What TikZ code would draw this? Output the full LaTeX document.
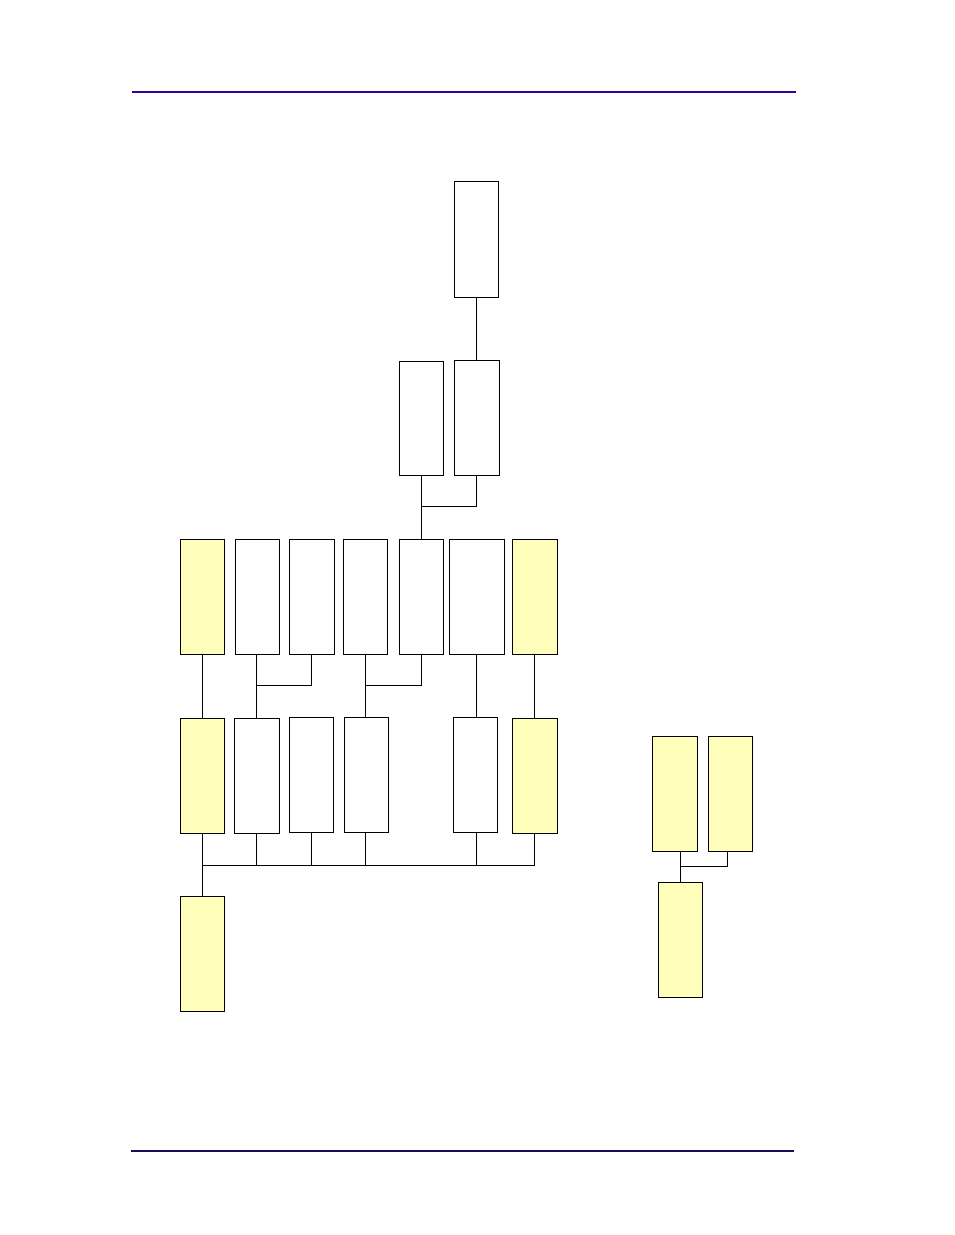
\documentclass[tikz,border=0pt]{standalone}
\usetikzlibrary{calc}
\definecolor{hdr}{HTML}{330099}
\definecolor{ftr}{HTML}{1E0A5A}
\definecolor{pale}{HTML}{FFFFBB}
\begin{document}
\begin{tikzpicture}[x=1pt,y=-1pt,
  wbox/.style={draw=black,line width=1pt,fill=white,minimum width=44pt,minimum height=115pt,inner sep=0pt,outer sep=0pt},
  ybox/.style={wbox,fill=pale},
  conn/.style={draw=black,line width=1pt}]
\useasboundingbox (0,0) rectangle (954,1235);
\draw[hdr,line width=1.2pt] (132,92) -- (796,92);
\draw[ftr,line width=1.2pt] (131,1151) -- (794,1151);
% top
\node[wbox,minimum height=116pt] (T1) at (476.3,239.2) {};
\node[wbox,minimum height=114pt] (M1) at (421.3,418.2) {};
\node[wbox,minimum width=45pt,minimum height=115pt] (M2) at (476.8,417.7) {};
% top row
\node[ybox] (Y1) at (202.3,596.8) {};
\node[wbox] (W1) at (257.3,596.8) {};
\node[wbox,minimum width=45pt] (W2) at (311.8,596.8) {};
\node[wbox] (W3) at (365.5,596.8) {};
\node[wbox] (W4) at (421.3,596.8) {};
\node[wbox,minimum width=55pt] (W5) at (476.8,596.8) {};
\node[ybox,minimum width=45pt] (Y2) at (534.8,596.8) {};
% bottom row
\node[ybox] (Y3) at (202.3,775.8) {};
\node[wbox,minimum width=45pt] (W6) at (256.8,775.8) {};
\node[wbox] (W7) at (311.3,774.8) {};
\node[wbox] (W8) at (366.3,774.8) {};
\node[wbox] (W9) at (475.3,774.8) {};
\node[ybox,minimum width=45pt] (Y4) at (534.8,775.8) {};
\node[ybox] (Y5) at (202.3,953.5) {};
% right group
\node[ybox,minimum width=45pt] (R1) at (674.8,793.8) {};
\node[ybox] (R2) at (730.2,793.8) {};
\node[ybox] (R3) at (680.3,939.7) {};
% junction coordinates
\coordinate (jm) at (421.3,506);
\coordinate (j1) at (256.8,685);
\coordinate (j2) at (365.5,685);
\coordinate (bus) at (203.3,865);
\coordinate (jr) at (680.3,866);
% connectors
\draw[conn] (T1.south) -- (T1.south |- M2.north);
\draw[conn] (M1.south) -- (W4.north);
\draw[conn] (M2.south) |- (jm);
\draw[conn] (Y1.south) -- (Y3.north);
\draw[conn] (W6.north |- W1.south) -- (W6.north);
\draw[conn] (W2.south) |- (j1);
\draw[conn] (W3.south) -- (W3.south |- W8.north);
\draw[conn] (W4.south) |- (j2);
\draw[conn] (W5.south) -- (W5.south |- W9.north);
\draw[conn] (Y2.south) -- (Y4.north);
\draw[conn] (Y3.south) -- (Y5.north);
\draw[conn] (Y4.south) |- (bus);
\draw[conn] (W6.south) -- (W6.south |- bus);
\draw[conn] (W7.south) -- (W7.south |- bus);
\draw[conn] (W3.south |- W8.south) -- (W3.south |- bus);
\draw[conn] (W5.south |- W9.south) -- (W5.south |- bus);
\draw[conn] (R3.north |- R1.south) -- (R3.north);
\draw[conn] ([xshift=-3pt]R2.south) |- (jr);
\end{tikzpicture}
\end{document}
